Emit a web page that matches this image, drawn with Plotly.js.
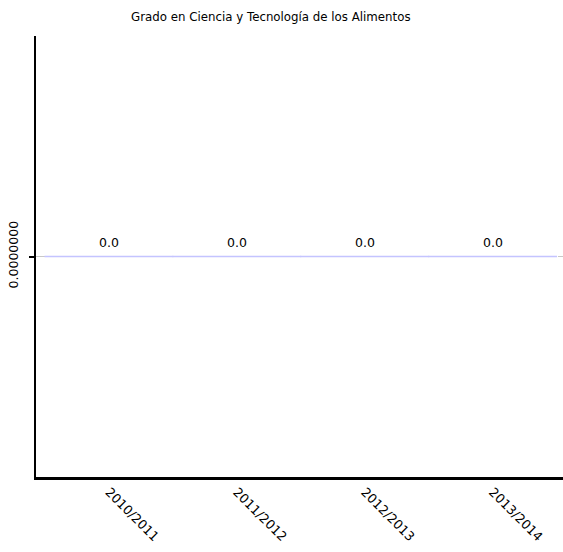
<!DOCTYPE html>
<html>
<head>
<meta charset="utf-8">
<script src="https://cdn.plot.ly/plotly-3.0.1.min.js"></script>
<style>html,body{margin:0;padding:0;background:#fff;}#chart{width:563px;height:552px;}</style>
</head>
<body>
<div id="chart"></div>
<script>
const chartTitle = "Grado en Ciencia y Tecnología de los Alimentos";
const categories = ["2010/2011", "2011/2012", "2012/2013", "2013/2014"];
const values = [0, 0, 0, 0];
const valueLabels = values.map(v => v.toFixed(1));

const FONT = "DejaVu Sans, Verdana, sans-serif";

const bars = {
  type: "scatter",
  mode: "markers",
  x: categories,
  y: values,
  marker: {symbol: "line-ew", size: 92, color: "#c4c4ff", line: {color: "#c4c4ff", width: 1.5}},
  hoverinfo: "x+y",
  showlegend: false,
  cliponaxis: false
};

const annotations = categories.map((c, i) => ({
  x: c, y: values[i], xref: "x", yref: "y",
  text: valueLabels[i], showarrow: false,
  xanchor: "center", yanchor: "bottom", yshift: 5,
  font: {family: FONT, size: 12.5, color: "#000"}
}));

const layout = {
  width: 563, height: 552,
  margin: {l: 36, r: 0, t: 36, b: 75, pad: 0},
  paper_bgcolor: "#fff", plot_bgcolor: "#fff",
  font: {family: FONT, size: 12, color: "#000"},
  title: {text: chartTitle, x: 0.481, xanchor: "center", y: 0.969, yanchor: "middle",
          font: {family: FONT, size: 11.8, color: "#000"}},
  annotations: annotations,
  xaxis: {
    type: "category",
    range: [-0.57, 3.55],
    showline: true, linecolor: "#000", linewidth: 2.5,
    showgrid: false, zeroline: false,
    ticks: "", tickangle: 45,
    tickfont: {family: FONT, size: 12.8, color: "#000"},
    fixedrange: true
  },
  yaxis: {
    range: [-1, 1],
    tickvals: [0], tickformat: ".7f",
    showline: true, linecolor: "#000", linewidth: 2.5,
    showgrid: true, gridcolor: "#c8c8c8", griddash: "dash", gridwidth: 1.2,
    zeroline: false,
    ticks: "outside", ticklen: 5, tickwidth: 2, tickcolor: "#000",
    ticklabelstandoff: 6,
    tickangle: -90,
    tickfont: {family: FONT, size: 12.5, color: "#000"},
    fixedrange: true
  }
};

Plotly.newPlot("chart", [bars], layout, {displayModeBar: false, staticPlot: true});
</script>
</body>
</html>
